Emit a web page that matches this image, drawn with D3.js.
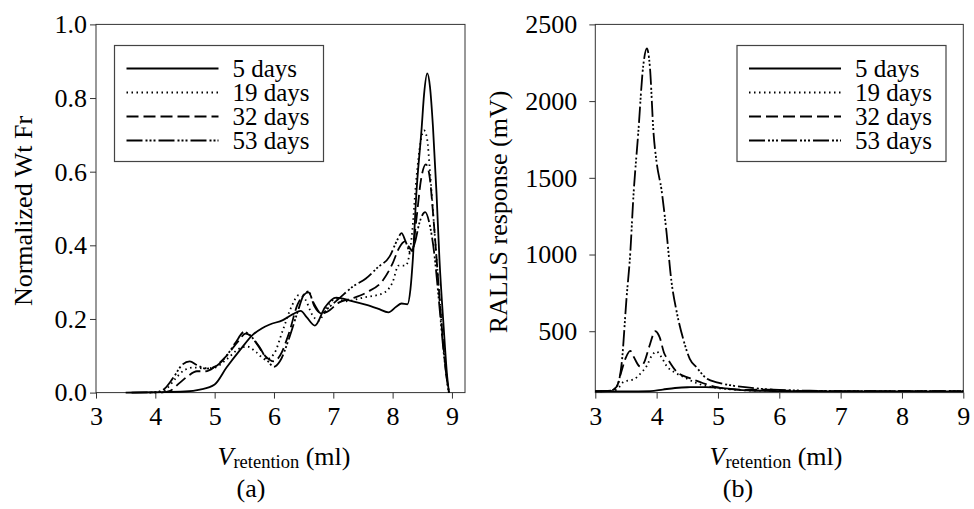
<!DOCTYPE html>
<html>
<head>
<meta charset="utf-8">
<script src="https://cdn.jsdelivr.net/npm/d3@7"></script>
<style>
  body { margin: 0; background: #fff; }
  svg { display: block; font-family: "Liberation Serif", "DejaVu Serif", serif; }
</style>
</head>
<body>
<svg id="chart" width="974" height="509"></svg>
<script>
// legend labels and line styles
const seriesNames = ['5 days', '19 days', '32 days', '53 days'];
const dashes = [null, '1.5,3.5', '12,5', '16,3,2,2,2,2,2,3'];

// tick values
const vTicks = [3, 4, 5, 6, 7, 8, 9];
const wtTicks = [0, 0.2, 0.4, 0.6, 0.8, 1.0];
const rallsTicks = [500, 1000, 1500, 2000, 2500];

// (a) normalized weight fraction vs retention volume, [ml, value]
const wt5 = [[3.5,0],[4.0,0.001],[4.5,0.003],[4.75,0.008],[5.0,0.022],[5.2,0.068],[5.43,0.116],[5.65,0.158],[5.8,0.175],[5.93,0.185],[6.15,0.197],[6.32,0.213],[6.45,0.222],[6.55,0.205],[6.69,0.182],[6.86,0.232],[7.05,0.258],[7.28,0.25],[7.56,0.238],[7.75,0.228],[7.93,0.218],[8.06,0.233],[8.15,0.242],[8.25,0.24],[8.3,0.28],[8.34,0.36],[8.4,0.54],[8.49,0.72],[8.53,0.81],[8.585,0.867],[8.63,0.83],[8.68,0.722],[8.74,0.541],[8.79,0.36],[8.86,0.179],[8.92,0.043],[8.95,0]];
const wt19 = [[3.9,0],[4.1,0.002],[4.2,0.012],[4.35,0.04],[4.5,0.062],[4.65,0.068],[4.8,0.066],[5.0,0.068],[5.2,0.09],[5.4,0.118],[5.55,0.125],[5.7,0.11],[5.86,0.09],[6.0,0.105],[6.15,0.17],[6.3,0.235],[6.42,0.265],[6.52,0.255],[6.65,0.21],[6.75,0.195],[6.9,0.235],[7.05,0.255],[7.2,0.248],[7.5,0.258],[7.84,0.27],[8.0,0.3],[8.1,0.345],[8.22,0.345],[8.32,0.42],[8.4,0.58],[8.47,0.68],[8.53,0.712],[8.58,0.69],[8.63,0.6],[8.7,0.45],[8.78,0.28],[8.86,0.12],[8.92,0.03],[8.95,0]];
const wt32 = [[4.1,0],[4.25,0.005],[4.4,0.025],[4.55,0.045],[4.7,0.058],[4.85,0.058],[5.0,0.07],[5.2,0.1],[5.4,0.14],[5.52,0.16],[5.6,0.155],[5.72,0.13],[5.85,0.1],[6.0,0.085],[6.1,0.1],[6.25,0.16],[6.4,0.24],[6.5,0.265],[6.58,0.272],[6.68,0.24],[6.8,0.215],[6.9,0.22],[7.1,0.245],[7.3,0.255],[7.56,0.272],[7.84,0.306],[8.0,0.351],[8.1,0.39],[8.2,0.41],[8.28,0.395],[8.33,0.385],[8.4,0.47],[8.48,0.58],[8.56,0.62],[8.62,0.59],[8.7,0.45],[8.78,0.28],[8.86,0.12],[8.92,0.03],[8.95,0]];
const wt53 = [[3.6,0],[4.0,0.001],[4.15,0.01],[4.3,0.04],[4.45,0.075],[4.58,0.085],[4.7,0.075],[4.85,0.065],[5.0,0.07],[5.2,0.1],[5.35,0.135],[5.5,0.165],[5.6,0.155],[5.75,0.125],[5.9,0.085],[6.0,0.07],[6.1,0.085],[6.25,0.145],[6.4,0.22],[6.5,0.265],[6.58,0.275],[6.68,0.235],[6.8,0.215],[6.95,0.235],[7.1,0.256],[7.33,0.288],[7.55,0.31],[7.75,0.34],[7.95,0.37],[8.08,0.415],[8.15,0.433],[8.22,0.41],[8.3,0.38],[8.38,0.41],[8.45,0.46],[8.55,0.49],[8.62,0.46],[8.7,0.38],[8.78,0.25],[8.86,0.11],[8.92,0.03],[8.95,0]];

// (b) RALLS response (mV) vs retention volume, [ml, mV]
const ralls5 = [[3.0,108],[3.5,108],[3.9,110],[4.1,120],[4.3,130],[4.5,135],[4.8,136],[5.0,133],[5.3,120],[5.6,112],[6.0,110],[7.0,108],[8.0,108],[9.0,108]];
const ralls19 = [[3.0,108],[3.3,112],[3.4,140],[3.46,170],[3.55,180],[3.62,185],[3.75,230],[3.84,275],[3.92,340],[4.0,367],[4.08,330],[4.16,275],[4.3,230],[4.45,200],[4.65,162],[4.98,130],[5.3,118],[5.6,113],[6.0,112],[7.0,110],[8.0,110],[9.0,110]];
const ralls32 = [[3.0,108],[3.25,112],[3.35,140],[3.42,230],[3.5,330],[3.57,372],[3.63,330],[3.73,270],[3.8,300],[3.88,400],[3.98,500],[4.05,460],[4.12,360],[4.19,313],[4.33,235],[4.54,194],[4.76,161],[4.98,135],[5.2,122],[5.5,118],[5.8,120],[6.0,115],[6.5,110],[7.0,110],[8.0,110],[9.0,110]];
const ralls53 = [[3.0,110],[3.25,113],[3.35,140],[3.43,290],[3.51,720],[3.57,1008],[3.62,1370],[3.7,1790],[3.78,2224],[3.84,2344],[3.89,2224],[3.95,1790],[4.0,1600],[4.08,1420],[4.16,1150],[4.24,830],[4.33,620],[4.44,440],[4.54,320],[4.65,265],[4.82,190],[5.0,165],[5.2,148],[5.6,128],[5.9,120],[6.5,112],[7.0,110],[8.0,110],[9.0,110]];

const svg = d3.select('#chart');
const plotTop = 24.4, plotBottom = 392.6;

function drawPanel(cfg) {
  const x = d3.scaleLinear().domain(cfg.xDomain).range([cfg.left, cfg.right]);
  const y = d3.scaleLinear().domain(cfg.yDomain).range([plotBottom, plotTop]);
  const g = svg.append('g');

  const xAxis = g.append('g')
    .attr('transform', `translate(0,${plotBottom})`)
    .call(d3.axisBottom(x).tickValues(vTicks).tickSize(6).tickSizeOuter(0).tickFormat(d3.format('d')));
  xAxis.select('.domain').remove();
  xAxis.attr('font-size', 26).attr('font-family', null);
  xAxis.selectAll('line').attr('stroke', '#333');
  xAxis.selectAll('text').attr('y', 32).attr('dy', null).attr('fill', '#000');

  const yAxis = g.append('g')
    .attr('transform', `translate(${cfg.left},0)`)
    .call(d3.axisLeft(y).tickValues(cfg.yTicks).tickSize(6).tickPadding(cfg.yPad).tickSizeOuter(0).tickFormat(cfg.yFormat));
  yAxis.select('.domain').remove();
  yAxis.attr('font-size', 26).attr('font-family', null);
  yAxis.selectAll('line').attr('stroke', '#333');
  yAxis.selectAll('text').attr('fill', '#000');

  g.append('rect')
    .attr('x', cfg.left).attr('y', plotTop)
    .attr('width', cfg.right - cfg.left).attr('height', plotBottom - plotTop)
    .attr('fill', 'none').attr('stroke', '#333').attr('stroke-width', 1);

  const line = d3.line().x(d => x(d[0])).y(d => y(d[1])).curve(d3.curveMonotoneX);
  cfg.series.forEach((s, i) => {
    g.append('path')
      .attr('d', line(s))
      .attr('fill', 'none')
      .attr('stroke', '#000')
      .attr('stroke-width', 1.8)
      .attr('stroke-dasharray', dashes[i]);
  });

  // legend
  const lg = g.append('g');
  lg.append('rect')
    .attr('x', cfg.legX).attr('y', 45.5).attr('width', 209).attr('height', 116)
    .attr('fill', '#fff').attr('stroke', '#444').attr('stroke-width', 1.2);
  seriesNames.forEach((name, i) => {
    const ly = 68.5 + i * 24;
    lg.append('line')
      .attr('x1', cfg.legX + 12).attr('x2', cfg.legX + 104)
      .attr('y1', ly).attr('y2', ly)
      .attr('stroke', '#000').attr('stroke-width', 1.8)
      .attr('stroke-dasharray', dashes[i]);
    lg.append('text')
      .attr('x', cfg.legX + 118).attr('y', ly + 8)
      .attr('font-size', 25)
      .text(name);
  });

  // x title
  const xt = g.append('text')
    .attr('x', cfg.xTitleX).attr('y', 465)
    .attr('text-anchor', 'middle')
    .attr('font-size', 26);
  xt.append('tspan').attr('font-style', 'italic').text('V');
  xt.append('tspan').attr('font-size', 18.5).attr('dy', 3).text('retention');
  xt.append('tspan').attr('dy', -3).text(' (ml)');

  // y title
  g.append('text')
    .attr('transform', `translate(${cfg.yTitleX},${cfg.yTitleY}) rotate(-90)`)
    .attr('text-anchor', 'middle')
    .attr('font-size', 26)
    .text(cfg.yTitle);

  // caption
  g.append('text')
    .attr('x', cfg.capX).attr('y', 497)
    .attr('text-anchor', 'middle')
    .attr('font-size', 26)
    .text(cfg.caption);
}

drawPanel({
  left: 96, right: 465, xDomain: [3, 9.22], yDomain: [0, 1],
  yTicks: wtTicks, yFormat: d3.format('.1f'), yPad: 3,
  series: [wt5, wt19, wt32, wt53],
  legX: 114.5, xTitleX: 284, yTitle: 'Normalized Wt Fr', yTitleX: 32, yTitleY: 211,
  capX: 251, caption: '(a)'
});

drawPanel({
  left: 595.3, right: 963.3, xDomain: [3, 9], yDomain: [100, 2500],
  yTicks: rallsTicks, yFormat: d3.format('d'), yPad: 12,
  series: [ralls5, ralls19, ralls32, ralls53],
  legX: 737, xTitleX: 776, yTitle: 'RALLS response (mV)', yTitleX: 507, yTitleY: 212,
  capX: 738, caption: '(b)'
});
</script>
</body>
</html>
